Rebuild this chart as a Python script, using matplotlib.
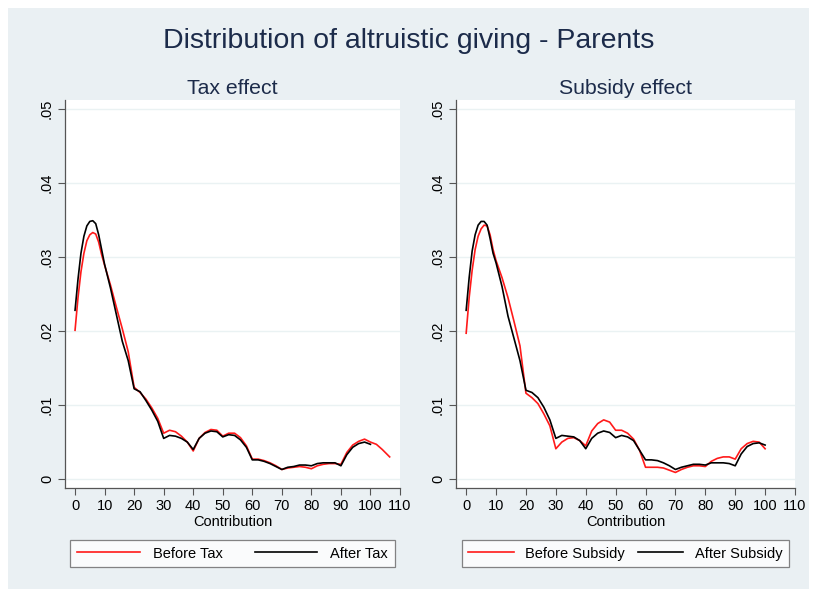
import matplotlib.pyplot as plt
from matplotlib.patches import Rectangle

plt.rcParams["font.family"] = ["Liberation Sans", "DejaVu Sans"]

# Kernel density estimates of contributions (parents)
grid = [0, 1, 2, 3, 4, 5, 6, 7, 8, 9, 10, 12, 14, 16, 18, 20, 22, 24, 26, 28,
        30, 32, 34, 36, 38, 40, 42, 44, 46, 48, 50, 52, 54, 56, 58, 60, 62, 64,
        66, 68, 70, 72, 74, 76, 78, 80, 82, 84, 86, 88, 90, 92, 94, 96, 98, 100]

tax_before_x = grid + [102, 104, 106.5]
tax_before = [.0201, .0245, .0280, .0305, .0322, .0330, .0333, .0331, .0320, .0303,
              .0289, .0262, .0232, .0203, .0172, .0124, .0117, .0108, .0096, .0082,
              .0062, .0066, .0064, .0058, .0050, .0038, .0055, .0063, .0067, .0066,
              .0058, .0062, .0062, .0056, .0045, .0027, .0027, .0025, .0022, .0018,
              .0013, .0015, .0016, .0017, .0016, .0014, .0018, .0020, .0021, .0021,
              .0020, .0036, .0046, .0051, .0054, .0050, .0047, .0040, .0030]

tax_after_x = grid
tax_after = [.0228, .0270, .0305, .0328, .0342, .0348, .0349, .0345, .0330, .0310,
             .0290, .0258, .0222, .0186, .0160, .0122, .0118, .0106, .0093, .0078,
             .0055, .0059, .0058, .0055, .0050, .0040, .0055, .0062, .0065, .0064,
             .0057, .0060, .0059, .0053, .0043, .0026, .0026, .0024, .0021, .0017,
             .0013, .0016, .0017, .0019, .0019, .0018, .0021, .0022, .0022, .0022,
             .0018, .0033, .0043, .0048, .0050, .0047]

sub_before_x = grid
sub_before = [.0197, .0245, .0282, .0310, .0328, .0338, .0343, .0342, .0330, .0310,
              .0295, .0272, .0245, .0213, .0180, .0116, .0110, .0102, .0088, .0072,
              .0041, .0050, .0055, .0056, .0052, .0045, .0065, .0075, .0080, .0077,
              .0066, .0066, .0062, .0054, .0039, .0016, .0016, .0016, .0015, .0012,
              .0009, .0013, .0016, .0018, .0018, .0017, .0024, .0028, .0030, .0030,
              .0027, .0041, .0048, .0051, .0050, .0041]

sub_after_x = grid
sub_after = [.0228, .0272, .0308, .0330, .0343, .0348, .0348, .0343, .0325, .0305,
             .0292, .0260, .0220, .0190, .0160, .0120, .0117, .0110, .0097, .0080,
             .0055, .0059, .0058, .0057, .0052, .0041, .0055, .0062, .0065, .0063,
             .0056, .0059, .0057, .0052, .0039, .0026, .0026, .0025, .0022, .0018,
             .0013, .0016, .0018, .0020, .0020, .0019, .0022, .0022, .0022, .0021,
             .0018, .0034, .0044, .0048, .0049, .0046]

xticks = list(range(0, 111, 10))
yticks = [0, .01, .02, .03, .04, .05]
ylabels = ["0", ".01", ".02", ".03", ".04", ".05"]

bg = "#EAF0F3"
navy = "#1C2B4A"

fig = plt.figure(figsize=(8.17, 5.97), dpi=100, facecolor="white")
fig.patches.append(Rectangle((8 / 817, 8 / 597), 801 / 817, 581 / 597,
                             transform=fig.transFigure, facecolor=bg,
                             edgecolor="none", zorder=-10))

fig.text(0.5, 1 - 41 / 597, "Distribution of altruistic giving - Parents",
         ha="center", va="center", fontsize=20.5, color=navy)

# legend spacing differs a little: the subsidy labels are longer
panels = [
    ([65 / 817, 109 / 597, 335 / 817, 388 / 597], "Tax effect",
     tax_before_x, tax_before, tax_after_x, tax_after, "Before Tax", "After Tax",
     dict(handlelength=4.3, handletextpad=0.9, columnspacing=2.2)),
    ([456 / 817, 109 / 597, 339 / 817, 388 / 597], "Subsidy effect",
     sub_before_x, sub_before, sub_after_x, sub_after, "Before Subsidy", "After Subsidy",
     dict(handlelength=3.1, handletextpad=0.8, columnspacing=0.9)),
]

for rect, title, bx, by, ax_x, ay, lab_b, lab_a, leg_kw in panels:
    ax = fig.add_axes(rect)
    ax.set_facecolor("white")
    ax.plot(bx, by, color="#FF1A1A", lw=1.2, label=lab_b, zorder=3)
    ax.plot(ax_x, ay, color="black", lw=1.2, label=lab_a, zorder=3)

    ax.set_xlim(-3.4, 110)
    ax.set_ylim(-0.0012, 0.0512)
    ax.set_xticks(xticks)
    ax.set_yticks(yticks)
    ax.set_yticklabels(ylabels, rotation=90, va="center")
    ax.tick_params(axis="both", labelsize=10.5, length=5, width=0.8,
                   color="#555555", labelcolor="black", pad=3)
    ax.grid(axis="y", color="#EAF2F3", lw=1.0, zorder=0)
    for s in ["top", "right"]:
        ax.spines[s].set_visible(False)
    for s in ["left", "bottom"]:
        ax.spines[s].set_color("#555555")
        ax.spines[s].set_linewidth(0.9)

    ax.set_title(title, fontsize=15.3, color=navy, pad=4)
    ax.set_xlabel("Contribution", fontsize=10.5, labelpad=1.5)

    leg = ax.legend(loc="upper center", bbox_to_anchor=(0.5, -0.134),
                    ncol=2, frameon=True, fancybox=False, fontsize=10.5,
                    borderpad=0.45, borderaxespad=0, **leg_kw)
    leg.get_frame().set_edgecolor("#666666")
    leg.get_frame().set_linewidth(0.9)

fig.savefig("out.png", dpi=100, facecolor=fig.get_facecolor())
